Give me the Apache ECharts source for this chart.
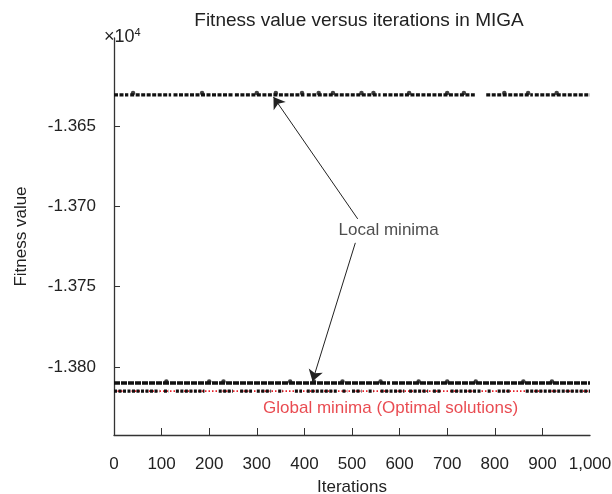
<!DOCTYPE html>
<html>
<head>
<meta charset="utf-8">
<script src="https://cdn.jsdelivr.net/npm/echarts@6/dist/echarts.min.js"></script>
<style>
  html, body { margin: 0; padding: 0; background: #fff; }
  #chart { width: 612px; height: 494px; }
</style>
</head>
<body>
<div id="chart"></div>
<script>
// band levels (x 10^4)
var topValue = -1.36307
var localValue = -1.38099
var globalValue = -1.38149

// runs of dots along each band, [first iteration, last iteration]
var topRuns = [[0, 30], [34, 120], [125, 250], [254, 400], [405, 560], [565, 758], [782, 880], [884, 1000]]
var localRuns = [[0, 580], [584, 1000]]
var globalRuns = [[0, 95], [105, 115], [130, 190], [220, 250], [265, 290], [300, 330], [345, 355], [380, 395],
  [405, 470], [480, 490], [500, 520], [535, 545], [560, 610], [620, 660], [670, 686], [707, 770],
  [785, 792], [806, 834], [865, 1000]]

// single dots sitting a little above the bands
var topBumps = [40, 185, 300, 340, 395, 430, 460, 520, 545, 620, 700, 735, 820, 870, 930]
var localBumps = [110, 200, 230, 370, 420, 480, 560, 640, 700, 760, 860, 920]

var xLabels = [0, 100, 200, 300, 400, 500, 600, 700, 800, 900, 1000]
var xTicks = [100, 200, 300, 400, 500, 600, 700, 800, 900]
var yLabels = [-1.380, -1.375, -1.370, -1.365]

function runData(runs, v) {
  var out = []
  runs.forEach(function(r, i) {
    if (i > 0) out.push([r[0], '-'])
    out.push([r[0], v])
    out.push([r[1], v])
  })
  return out
}
function bumpData(list, v) {
  return list.map(function(x) { return [x, v] })
}

var font = '"Liberation Sans", Arial, sans-serif'
var chart = echarts.init(document.getElementById('chart'))
var option = {
  animation: false,
  backgroundColor: '#fff',
  textStyle: { fontFamily: font },
  title: {
    text: 'Fitness value versus iterations in MIGA',
    left: 354,
    textAlign: 'center',
    top: 6,
    textStyle: { fontFamily: font, fontSize: 19, fontWeight: 'normal', color: '#222' }
  },
  graphic: [
    {
      type: 'text', left: 104, top: 27,
      style: {
        text: '{a|\u00d710}{b|4}',
        rich: {
          a: { fontFamily: font, fontSize: 18, fill: '#222' },
          b: { fontFamily: font, fontSize: 11, fill: '#222', padding: [0, 0, 9, 0] }
        }
      }
    }
  ],
  grid: { left: 114, right: 22, top: 38, bottom: 59, outerBoundsMode: 'none', containLabel: false },
  xAxis: {
    type: 'value',
    min: 0,
    max: 1000,
    name: 'Iterations',
    nameLocation: 'middle',
    nameGap: 44,
    nameTextStyle: { fontSize: 17, color: '#222' },
    axisLine: { lineStyle: { color: '#333', width: 1.3 } },
    axisTick: { inside: true, length: 7, customValues: xTicks, lineStyle: { color: '#333' } },
    axisLabel: {
      customValues: xLabels,
      margin: 21,
      fontSize: 17,
      color: '#222',
      formatter: function(v) { return v === 1000 ? '1,000' : String(v) }
    },
    splitLine: { show: false }
  },
  yAxis: {
    type: 'value',
    min: -1.38422,
    max: -1.35953,
    name: 'Fitness value',
    nameLocation: 'middle',
    nameGap: 84,
    nameTextStyle: { fontSize: 17, color: '#222' },
    axisLine: { show: true, lineStyle: { color: '#333', width: 1.3 } },
    axisTick: { show: true, inside: true, length: 6, customValues: yLabels, lineStyle: { color: '#333' } },
    axisLabel: {
      customValues: yLabels,
      margin: 18,
      fontSize: 17,
      color: '#222',
      formatter: function(v) { return v.toFixed(3) }
    },
    splitLine: { show: false }
  },
  series: [
    {
      type: 'line',
      data: [[0, globalValue], [1000, globalValue]],
      symbol: 'none',
      lineStyle: { color: '#e41e26', width: 1.6, type: [1.5, 2] }
    },
    {
      type: 'line',
      data: runData(globalRuns, globalValue),
      symbol: 'none',
      connectNulls: false,
      lineStyle: { color: '#111', width: 3.4, type: [3, 1.5] }
    },
    {
      type: 'line',
      data: runData(localRuns, localValue),
      symbol: 'none',
      connectNulls: false,
      lineStyle: { color: '#111', width: 3.6, type: [6, 1] }
    },
    {
      type: 'line',
      data: runData(topRuns, topValue),
      symbol: 'none',
      connectNulls: false,
      lineStyle: { color: '#111', width: 3.4, type: [4, 1.5] }
    },
    {
      type: 'scatter',
      data: bumpData(topBumps, topValue + 0.00012),
      symbolSize: 4.5,
      itemStyle: { color: '#111' }
    },
    {
      type: 'scatter',
      data: bumpData(localBumps, localValue + 0.0001),
      symbolSize: 4.5,
      itemStyle: { color: '#111' }
    },
    {
      type: 'scatter',
      data: [[577, -1.37152]],
      symbolSize: 0,
      label: { show: true, position: 'inside', formatter: 'Local minima', fontSize: 17, color: '#222' },
      markLine: {
        silent: true,
        symbol: ['none', 'arrow'],
        symbolSize: 11,
        label: { show: false },
        lineStyle: { color: '#222', width: 1, type: 'solid' },
        data: [
          [{ coord: [512, -1.37078] }, { coord: [335, -1.3632] }],
          [{ coord: [507, -1.37227] }, { coord: [417, -1.38087] }]
        ]
      }
    },
    {
      type: 'scatter',
      data: [[581, -1.38255]],
      symbolSize: 0,
      label: { show: true, position: 'inside', formatter: 'Global minima (Optimal solutions)', fontSize: 17, color: '#e41e26' }
    }
  ]
}
chart.setOption(option)
</script>
</body>
</html>
